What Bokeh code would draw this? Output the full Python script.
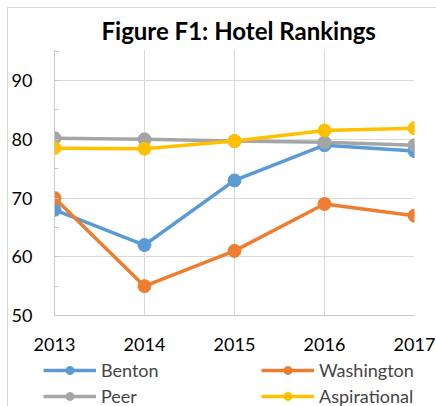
from bokeh.plotting import figure
from bokeh.layouts import column
from bokeh.models import Range1d, Legend, LegendItem, SingleIntervalTicker, FixedTicker
from bokeh.embed import file_html
from bokeh.resources import INLINE

years = [2013, 2014, 2015, 2016, 2017]
benton = [68, 62, 73, 79, 78]
washington = [70, 55, 61, 69, 67]
peer = [80.2, 80.0, 79.7, 79.5, 79.0]
aspirational = [78.5, 78.4, 79.7, 81.5, 81.9]
series_names = ["Benton", "Washington", "Peer", "Aspirational"]
series_values = [benton, washington, peer, aspirational]
colors = ["#5B9BD5", "#ED7D31", "#A5A5A5", "#FFC000"]

FONT = "Lato"

p = figure(width=429, height=352, output_backend="svg", toolbar_location=None,
           x_range=Range1d(2013, 2017), y_range=Range1d(50, 95.3),
           min_border_left=46, min_border_right=23, min_border_top=36, min_border_bottom=45)

p.title.text = "Figure F1: Hotel Rankings"
p.title.text_font = FONT
p.title.text_font_style = "bold"
p.title.text_font_size = "24px"
p.title.align = "left"
p.title.offset = 47
p.title.text_color = "#000000"

p.outline_line_color = None

for name, vals, c in zip(series_names, series_values, colors):
    p.line(years, vals, line_color=c, line_width=3.5)
    p.scatter(years, vals, size=13, fill_color=c, line_color=c)

# axes
p.xaxis.ticker = FixedTicker(ticks=years)
p.xaxis.major_label_text_font = FONT
p.xaxis.major_label_text_font_size = "18px"
p.xaxis.major_label_text_color = "#000000"
p.xaxis.major_tick_out = 0
p.xaxis.major_tick_in = 0
p.xaxis.minor_tick_out = 0
p.xaxis.axis_line_color = "#c8c8c8"
p.xaxis.major_label_standoff = 22

p.yaxis.ticker = SingleIntervalTicker(interval=10, num_minor_ticks=2)
p.yaxis.major_label_text_font = FONT
p.yaxis.major_label_text_font_size = "18px"
p.yaxis.major_label_text_color = "#000000"
p.yaxis.major_label_text_align = "right"
p.yaxis.major_label_text_baseline = "middle"
p.yaxis.major_tick_out = 0
p.yaxis.major_tick_in = 0
p.yaxis.minor_tick_out = 0
p.yaxis.minor_tick_in = 4
p.yaxis.minor_tick_line_color = "#c8c8c8"
p.yaxis.axis_line_color = "#c8c8c8"
p.yaxis.major_label_standoff = 22

p.xgrid.ticker = FixedTicker(ticks=years)
p.xgrid.grid_line_color = "#d9d9d9"
p.ygrid.grid_line_color = "#d9d9d9"

# legend strip: a second figure whose frame holds the legend (series drawn out of view)
lg = figure(width=429, height=47, output_backend="svg", toolbar_location=None,
            x_range=Range1d(0, 1), y_range=Range1d(0, 1),
            x_axis_location=None, y_axis_location=None,
            min_border_left=0, min_border_right=0, min_border_top=0, min_border_bottom=0)
lg.grid.visible = False
lg.outline_line_color = None
for fig in (p, lg):
    if "frame_align" in fig.properties():
        fig.frame_align = False

renderers = {}
for name, vals, c in zip(series_names, series_values, colors):
    l = lg.line(years, vals, line_color=c, line_width=3.5)
    s = lg.scatter(years, vals, size=13, fill_color=c, line_color=c)
    renderers[name] = [l, s]

order = ["Benton", "Peer", "Washington", "Aspirational"]
items = [LegendItem(label=n, renderers=renderers[n]) for n in order]
legend = Legend(items=items, orientation="vertical", ncols=2,
                glyph_width=53, glyph_height=20, label_standoff=5,
                label_width=156, spacing=4, padding=0, margin=0,
                border_line_color=None, background_fill_alpha=0,
                label_text_font=FONT, label_text_font_size="18px",
                label_height=20, location=(35, 0))
lg.add_layout(legend, "center")

layout = column(p, lg, spacing=0)
layout.styles = {"border-top": "1px solid #d9d9d9", "border-left": "1px solid #d9d9d9",
                 "margin-left": "7px", "margin-top": "7px"}

open("out.html", "w").write(file_html(layout, INLINE))
